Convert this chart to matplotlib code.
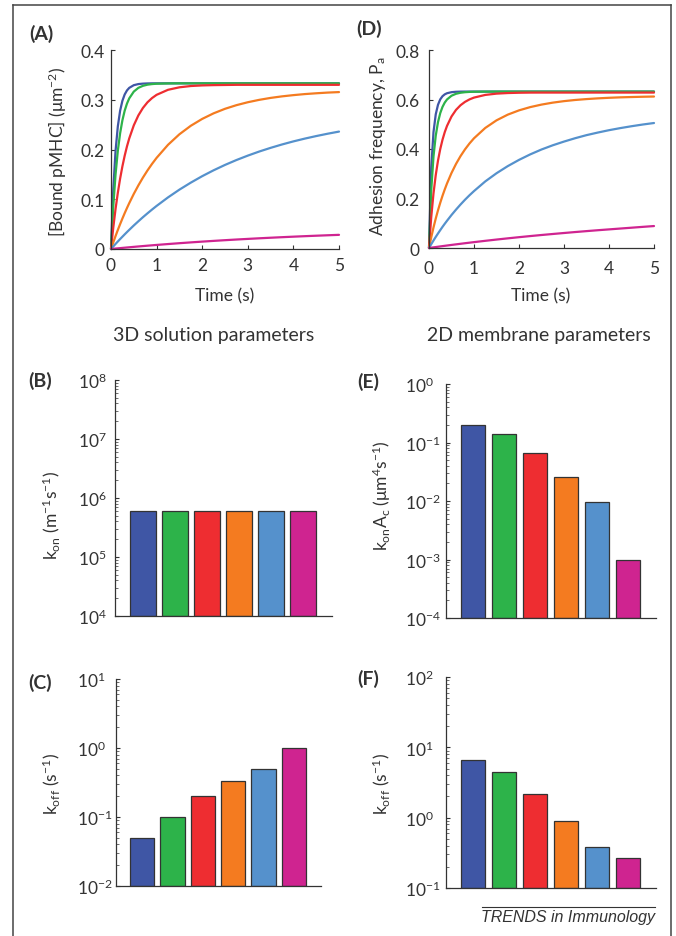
import numpy as np
import matplotlib
matplotlib.use('Agg')
import matplotlib.pyplot as plt
from matplotlib.lines import Line2D
from matplotlib.ticker import LogLocator, NullFormatter

plt.rcParams['font.family'] = ['Lato', 'DejaVu Sans']
plt.rcParams['mathtext.fontset'] = 'custom'
plt.rcParams['mathtext.rm'] = 'Lato'
plt.rcParams['mathtext.it'] = 'Lato:italic'
plt.rcParams['mathtext.bf'] = 'Lato:bold'
plt.rcParams['mathtext.default'] = 'regular'

# ---------------- data ----------------
series_colors = ['#3F56A5', '#2DB34A', '#EE2D31', '#F47B20', '#5591CC', '#CF2490']

time_s = [0, 0.05, 0.1, 0.15, 0.2, 0.25, 0.3, 0.35, 0.4, 0.5, 0.6, 0.7, 0.8, 0.9, 1.0,
          1.25, 1.5, 1.75, 2.0, 2.25, 2.5, 2.75, 3.0, 3.25, 3.5, 3.75, 4.0, 4.25, 4.5, 4.75, 5.0]

# Panel A: bound pMHC (um^-2)
bound_blue = [0, 0.1206, 0.1976, 0.2467, 0.2780, 0.2979, 0.3106, 0.3187, 0.3239, 0.3293,
              0.3315, 0.3324, 0.3328, 0.333, 0.333,
              0.333, 0.333, 0.333, 0.333, 0.333, 0.333, 0.333, 0.333,
              0.333, 0.333, 0.333, 0.333, 0.333, 0.333, 0.333, 0.333]
bound_green = [0, 0.0863, 0.1502, 0.1976, 0.2327, 0.2587, 0.2780, 0.2922, 0.3028, 0.3164,
               0.3239, 0.3280, 0.3303, 0.3315, 0.3322,
               0.3328, 0.333, 0.333, 0.333, 0.333, 0.333, 0.333, 0.333,
               0.333, 0.333, 0.333, 0.333, 0.333, 0.333, 0.333, 0.333]
bound_red = [0, 0.0431, 0.0806, 0.1132, 0.1415, 0.1661, 0.1875, 0.2062, 0.2223, 0.2486,
             0.2685, 0.2835, 0.2949, 0.3034, 0.3099,
             0.3200, 0.3250, 0.3276, 0.3288, 0.3294, 0.3297, 0.330, 0.330,
             0.330, 0.330, 0.330, 0.330, 0.330, 0.330, 0.330, 0.330]
bound_orange = [0, 0.0133, 0.0261, 0.0383, 0.0500, 0.0612, 0.0720, 0.0823, 0.0922, 0.1108,
                0.1278, 0.1435, 0.1579, 0.1711, 0.1832,
                0.2094, 0.2306, 0.2477, 0.2615, 0.2727, 0.2818, 0.2891, 0.2950,
                0.2998, 0.3037, 0.3068, 0.3093, 0.3114, 0.3130, 0.3144, 0.3154]
bound_lightblue = [0, 0.0051, 0.0102, 0.0151, 0.0200, 0.0247, 0.0294, 0.0340, 0.0385, 0.0473,
                   0.0557, 0.0639, 0.0717, 0.0793, 0.0866,
                   0.1037, 0.1193, 0.1334, 0.1464, 0.1582, 0.1690, 0.1788, 0.1877,
                   0.1959, 0.2033, 0.2101, 0.2163, 0.2219, 0.2270, 0.2317, 0.2360]
bound_magenta = [0, 0.00045, 0.00089, 0.00133, 0.00176, 0.00220, 0.00262, 0.00304, 0.00346, 0.00428,
                 0.00509, 0.00588, 0.00666, 0.00741, 0.00816,
                 0.00995, 0.01166, 0.01329, 0.01484, 0.01631, 0.01771, 0.01904, 0.02030,
                 0.02151, 0.02265, 0.02374, 0.02478, 0.02577, 0.02670, 0.02760, 0.02845]

# Panel D: adhesion frequency Pa
adh_blue = [0, 0.3253, 0.4685, 0.5402, 0.5788, 0.6006, 0.6133, 0.6208, 0.6253, 0.6296,
            0.6312, 0.6318, 0.632, 0.632, 0.632,
            0.632, 0.632, 0.632, 0.632, 0.632, 0.632, 0.632, 0.632,
            0.632, 0.632, 0.632, 0.632, 0.632, 0.632, 0.632, 0.632]
adh_green = [0, 0.2340, 0.3701, 0.4541, 0.5087, 0.5451, 0.5701, 0.5876, 0.6000, 0.6152,
             0.6231, 0.6273, 0.6295, 0.6307, 0.6313,
             0.6318, 0.632, 0.632, 0.632, 0.632, 0.632, 0.632, 0.632,
             0.632, 0.632, 0.632, 0.632, 0.632, 0.632, 0.632, 0.632]
adh_red = [0, 0.1251, 0.2206, 0.2948, 0.3532, 0.3998, 0.4374, 0.4681, 0.4932, 0.5313,
           0.5580, 0.5768, 0.5904, 0.6004, 0.6077,
           0.6185, 0.6237, 0.6261, 0.6273, 0.6279, 0.628, 0.628, 0.628,
           0.628, 0.628, 0.628, 0.628, 0.628, 0.628, 0.628, 0.628]
adh_orange = [0, 0.0433, 0.0829, 0.1191, 0.1523, 0.1828, 0.2109, 0.2367, 0.2606, 0.3031,
              0.3396, 0.3711, 0.3985, 0.4224, 0.4433,
              0.4850, 0.5158, 0.5388, 0.5561, 0.5693, 0.5794, 0.5873, 0.5934,
              0.5981, 0.6017, 0.6046, 0.6069, 0.6087, 0.6100, 0.6111, 0.6120]
adh_lightblue = [0, 0.0154, 0.0304, 0.0448, 0.0587, 0.0722, 0.0854, 0.0979, 0.1100, 0.1333,
                 0.1550, 0.1756, 0.1950, 0.2131, 0.2300,
                 0.2690, 0.3020, 0.3308, 0.3560, 0.3783, 0.3980, 0.4150, 0.4300,
                 0.4437, 0.4560, 0.4664, 0.4760, 0.4844, 0.4920, 0.4989, 0.5050]
adh_magenta = [0, 0.0013, 0.0026, 0.0038, 0.0051, 0.0064, 0.0076, 0.0088, 0.0100, 0.0124,
               0.0147, 0.0170, 0.0193, 0.0215, 0.0237,
               0.0290, 0.0341, 0.0390, 0.0437, 0.0482, 0.0525, 0.0566, 0.0606,
               0.0645, 0.0682, 0.0718, 0.0752, 0.0786, 0.0820, 0.0854, 0.0887]

bound_series = [bound_blue, bound_green, bound_red, bound_orange, bound_lightblue, bound_magenta]
adh_series = [adh_blue, adh_green, adh_red, adh_orange, adh_lightblue, adh_magenta]

time_ticks = [0, 1, 2, 3, 4, 5]
time_ticklabels = ['0', '1', '2', '3', '4', '5']
bound_ticks = [0, 0.1, 0.2, 0.3, 0.4]
bound_ticklabels = ['0', '0.1', '0.2', '0.3', '0.4']
adh_ticks = [0, 0.2, 0.4, 0.6, 0.8]
adh_ticklabels = ['0', '0.2', '0.4', '0.6', '0.8']

bar_positions = [1, 2, 3, 4, 5, 6]
kon_3d = [6.0e5, 6.0e5, 6.0e5, 6.0e5, 6.0e5, 6.0e5]
koff_3d = [0.05, 0.10, 0.20, 0.333, 0.50, 1.00]
konAc_2d = [0.20, 0.14, 0.065, 0.026, 0.0097, 0.0010]
koff_2d = [6.7, 4.5, 2.17, 0.885, 0.38, 0.27]

kon3d_ticks = [1e4, 1e5, 1e6, 1e7, 1e8]
kon3d_ticklabels = ['$10^{4}$', '$10^{5}$', '$10^{6}$', '$10^{7}$', '$10^{8}$']
koff3d_ticks = [1e-2, 1e-1, 1e0, 1e1]
koff3d_ticklabels = ['$10^{-2}$', '$10^{-1}$', '$10^{0}$', '$10^{1}$']
konAc_ticks = [1e-4, 1e-3, 1e-2, 1e-1, 1e0]
konAc_ticklabels = ['$10^{-4}$', '$10^{-3}$', '$10^{-2}$', '$10^{-1}$', '$10^{0}$']
koff2d_ticks = [1e-1, 1e0, 1e1, 1e2]
koff2d_ticklabels = ['$10^{-1}$', '$10^{0}$', '$10^{1}$', '$10^{2}$']

# ---------------- layout ----------------
W, H = 676, 937
DARK = '#333333'
TICK_FS = 12.5
LABEL_FS = 12.5
fig = plt.figure(figsize=(W / 100, H / 100), dpi=100)
fig.patch.set_facecolor('white')


def add_ax(l, t, r, b):
    ax = fig.add_axes([l / W, 1 - b / H, (r - l) / W, (b - t) / H])
    for s in ['top', 'right']:
        ax.spines[s].set_visible(False)
    for s in ['left', 'bottom']:
        ax.spines[s].set_color(DARK)
        ax.spines[s].set_linewidth(0.9)
    ax.tick_params(direction='in', length=3, width=0.8, color=DARK,
                   labelcolor=DARK, labelsize=TICK_FS)
    ax.set_facecolor('none')
    return ax, (l, t, r, b)


def place_ylabel(ax, rect, text, cx, cy, size=LABEL_FS):
    l, t, r, b = rect
    ax.set_ylabel(text, fontsize=size, color=DARK, va='center', ha='center')
    ax.yaxis.set_label_coords((cx - l) / (r - l), (b - cy) / (b - t))


def place_xlabel(ax, rect, text, cx, cy, size=LABEL_FS):
    l, t, r, b = rect
    ax.set_xlabel(text, fontsize=size, color=DARK, va='center', ha='center')
    ax.xaxis.set_label_coords((cx - l) / (r - l), (b - cy) / (b - t))


# Panel A
axA, rA = add_ax(111, 51, 339, 250)
for ys, c in zip(bound_series, series_colors):
    axA.plot(time_s, ys, color=c, lw=1.6, solid_joinstyle='round', solid_capstyle='round', clip_on=False)
axA.set_xlim(0, 5)
axA.set_ylim(0, 0.4)
axA.set_xticks(time_ticks, time_ticklabels)
axA.set_yticks(bound_ticks, bound_ticklabels)
axA.tick_params(axis='x', pad=6)
axA.tick_params(axis='y', pad=4.5)
place_ylabel(axA, rA, '[Bound pMHC] (μm$^{-2}$)', 58, 152)
place_xlabel(axA, rA, 'Time (s)', 225, 296)

# Panel D
axD, rD = add_ax(429, 51, 654, 249)
for ys, c in zip(adh_series, series_colors):
    axD.plot(time_s, ys, color=c, lw=1.6, solid_joinstyle='round', solid_capstyle='round', clip_on=False)
axD.set_xlim(0, 5)
axD.set_ylim(0, 0.8)
axD.set_xticks(time_ticks, time_ticklabels)
axD.set_yticks(adh_ticks, adh_ticklabels)
axD.tick_params(axis='x', pad=8.5)
axD.tick_params(axis='y', pad=6.5)
place_ylabel(axD, rD, 'Adhesion frequency, P$_{a}$', 378, 146)
place_xlabel(axD, rD, 'Time (s)', 541, 296)


def bar_panel(rect, vals, lo, hi, ticks, ticklabels, xl, xr, width, pad):
    ax, r = add_ax(*rect)
    ax.set_yscale('log')
    ax.set_ylim(lo, hi)
    heights = [v - lo for v in vals]
    ax.bar(bar_positions, heights, bottom=lo, width=width, color=series_colors,
           edgecolor=DARK, linewidth=0.9, zorder=2)
    ax.set_xlim(xl, xr)
    ax.set_xticks([])
    ax.set_yticks(ticks, ticklabels, ha='left')
    ax.yaxis.set_minor_locator(LogLocator(base=10, subs=np.arange(2, 10)))
    ax.yaxis.set_minor_formatter(NullFormatter())
    ax.tick_params(axis='y', which='minor', direction='in', length=1.8, width=0.5, color=DARK)
    ax.tick_params(axis='y', which='major', pad=pad)
    return ax, r


axB, rB = bar_panel((115, 381, 332, 617), kon_3d, 1e4, 1e8, kon3d_ticks, kon3d_ticklabels,
                    0.13, 6.91, 0.8, (115 - 78) / 1.389)
place_ylabel(axB, rB, 'k$_{on}$ (m$^{-1}$s$^{-1}$)', 51, 515)

axE, rE = bar_panel((446, 385, 656, 619), konAc_2d, 1e-4, 1e0, konAc_ticks, konAc_ticklabels,
                    0.12, 6.9, 0.78, (446 - 404.7) / 1.389)
place_ylabel(axE, rE, 'k$_{on}$A$_{c}$ (μm$^{4}$s$^{-1}$)', 382, 496)

axC, rC = bar_panel((116, 680, 321, 887), koff_3d, 1e-2, 1e1, koff3d_ticks, koff3d_ticklabels,
                    0.135, 6.9, 0.8, (116 - 76.7) / 1.389)
place_ylabel(axC, rC, 'k$_{off}$ (s$^{-1}$)', 51, 784)

axF, rF = bar_panel((446, 678, 656, 889), koff_2d, 1e-1, 1e2, koff2d_ticks, koff2d_ticklabels,
                    0.12, 6.9, 0.78, (446 - 404.7) / 1.389)
place_ylabel(axF, rF, 'k$_{off}$ (s$^{-1}$)', 381, 784)


def ftext(x, y, s, **kw):
    fig.text(x / W, 1 - y / H, s, **kw)


for lab, x, y in [('(A)', 41, 34), ('(D)', 369, 29), ('(B)', 40, 381),
                  ('(E)', 368, 382), ('(C)', 40, 683), ('(F)', 368, 679)]:
    ftext(x, y, lab, fontsize=14, fontweight='bold', color=DARK, ha='center', va='center')

ftext(214, 336, '3D solution parameters', fontsize=14, color=DARK, ha='center', va='center')
ftext(539, 336, '2D membrane parameters', fontsize=14, color=DARK, ha='center', va='center')

# footer
fig.add_artist(Line2D([482 / W, 655 / W], [1 - 907.5 / H, 1 - 907.5 / H], color=DARK, lw=0.8))
ftext(568, 918, 'TRENDS in Immunology', fontsize=11.5, style='italic', color=DARK,
      ha='center', va='center', family=['Liberation Sans', 'DejaVu Sans'])

# outer frame
frame_kw = dict(color='#444444', lw=1.1)
fig.add_artist(Line2D([13 / W, 13 / W], [1 - 6 / H, 0], **frame_kw))
fig.add_artist(Line2D([13 / W, 671 / W], [1 - 6 / H, 1 - 6 / H], **frame_kw))
fig.add_artist(Line2D([671 / W, 671 / W], [1 - 6 / H, 0], **frame_kw))

fig.savefig('out.png', dpi=100, facecolor='white')
